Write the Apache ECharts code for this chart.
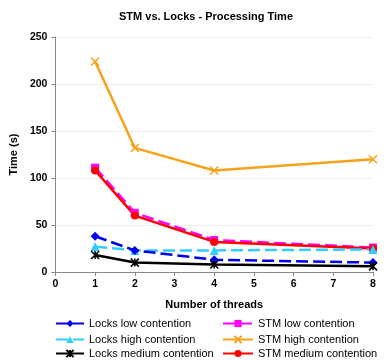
<!DOCTYPE html>
<html><head><meta charset="utf-8">
<script src="https://cdn.jsdelivr.net/npm/echarts@6/dist/echarts.min.js"></script>
<style>html,body{margin:0;padding:0;background:#fff}#c{width:392px;height:360px}</style>
</head><body><div id="c"></div>
<script>
const threads = [1, 2, 4, 8];
const locksLow = [38, 23, 13, 10];
const locksHigh = [27, 23, 23, 24];
const locksMedium = [18, 10, 8, 6];
const stmLow = [111, 63, 34, 26];
const stmHigh = [224, 132, 108, 120];
const stmMedium = [108, 60, 32, 25];
const yTicks = [0, 50, 100, 150, 200, 250];

const F = 'Liberation Sans, Arial, sans-serif';
const xSym = 'path://M0,0L10,10M10,0L0,10';
const astSym = 'path://M0,0L10,10M10,0L0,10M5,0L5,10';
function pts(v){ return threads.map((t,i)=>[t, v[i]]); }
function s(name, data, color, symbol, size, dashed, stroke){
  return {
    name, type:'line', data: pts(data), symbol, symbolSize: size,
    lineStyle:{color, width:2.5, type: dashed ? [12,5] : 'solid'},
    itemStyle: stroke ? {color, borderColor: color, borderWidth: 1.5} : {color},
    emphasis:{disabled:true}, animation:false, z: 2
  };
}
function lg(name, left, top, w){
  return {left, top, itemWidth:w, itemHeight:9, data:[name], padding:0,
    textStyle:{fontFamily:F, fontSize:11, color:'#000'}};
}
const chart = echarts.init(document.getElementById('c'));
chart.setOption({
  animation:false,
  title:{text:'STM vs. Locks - Processing Time', left:201, top:6, textAlign:'center',
    textStyle:{fontFamily:F, fontSize:11, fontWeight:'bold', color:'#000'}},
  grid:{left:49, right:19, top:37, bottom:88},
  xAxis:{type:'value', min:0, max:8, interval:1, name:'Number of threads', nameLocation:'middle', nameGap:27,
    nameTextStyle:{fontFamily:F, fontSize:11, fontWeight:'bold', color:'#000'},
    axisLine:{lineStyle:{color:'#888', width:1}}, axisTick:{show:true, length:4, lineStyle:{color:'#888'}},
    axisLabel:{fontFamily:F, fontSize:10.5, fontWeight:'bold', color:'#000', margin:7},
    splitLine:{show:false}},
  yAxis:{type:'value', min:0, max:250, interval:50, name:'Time (s)', nameLocation:'middle', nameGap:30,
    nameTextStyle:{fontFamily:F, fontSize:11, fontWeight:'bold', color:'#000'},
    axisLine:{show:true, lineStyle:{color:'#888', width:1}}, axisTick:{show:true, length:4, lineStyle:{color:'#888'}},
    axisLabel:{fontFamily:F, fontSize:10.5, fontWeight:'bold', color:'#000', margin:8,
      formatter: v => yTicks.includes(v) ? String(v) : ''},
    splitLine:{show:true, lineStyle:{color:'#eee', width:1}}},
  legend:[
    lg('Locks low contention', 55, 318, 28),
    lg('Locks high contention', 55, 334, 28),
    lg('Locks medium contention', 55, 348, 28),
    lg('STM low contention', 222, 318, 30),
    lg('STM high contention', 222, 334, 30),
    lg('STM medium contention', 222, 348, 30)
  ],
  series:[
    s('STM high contention', stmHigh, '#F7A21B', xSym, 8, false, true),
    s('STM low contention', stmLow, '#FF00FF', 'rect', 8, true, false),
    s('STM medium contention', stmMedium, '#FF0000', 'circle', 8, false, false),
    s('Locks high contention', locksHigh, '#33CCFF', 'triangle', 9, true, false),
    s('Locks low contention', locksLow, '#0000EE', 'diamond', 9, true, false),
    s('Locks medium contention', locksMedium, '#000000', astSym, 8, false, true)
  ]
});
</script></body></html>
